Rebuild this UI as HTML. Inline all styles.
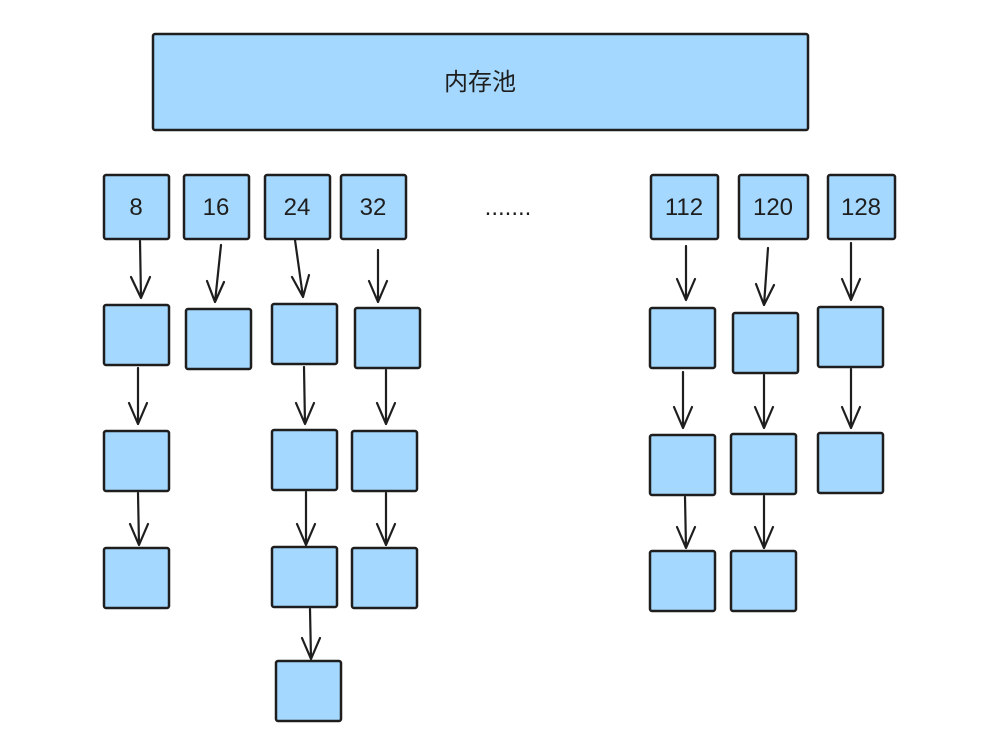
<!DOCTYPE html>
<html><head><meta charset="utf-8"><style>
html,body{margin:0;padding:0;background:#fff;}
svg{display:block;}
text{font-family:"Liberation Sans","Noto Sans CJK SC",sans-serif;fill:#1e1e1e;}
</style></head><body>
<svg width="996" height="756" viewBox="0 0 996 756" xmlns="http://www.w3.org/2000/svg">
<g fill="#a5d8ff" stroke="#1e1e1e" stroke-width="2.5" stroke-linejoin="round">
<rect x="153" y="34" width="655" height="96" rx="2"/>
<rect x="104" y="175" width="65" height="64" rx="2"/>
<rect x="184" y="175" width="65" height="64" rx="2"/>
<rect x="265" y="175" width="65" height="64" rx="2"/>
<rect x="341" y="175" width="65" height="64" rx="2"/>
<rect x="651" y="175" width="67" height="64" rx="2"/>
<rect x="739" y="175" width="69" height="64" rx="2"/>
<rect x="828" y="175" width="67" height="64" rx="2"/>
<rect x="104" y="305" width="65" height="60" rx="2"/>
<rect x="104" y="431" width="65" height="60" rx="2"/>
<rect x="104" y="548" width="65" height="60" rx="2"/>
<rect x="186" y="309" width="65" height="60" rx="2"/>
<rect x="272" y="304" width="65" height="60" rx="2"/>
<rect x="272" y="430" width="65" height="60" rx="2"/>
<rect x="272" y="547" width="65" height="60" rx="2"/>
<rect x="276" y="661" width="65" height="60" rx="2"/>
<rect x="355" y="308" width="65" height="60" rx="2"/>
<rect x="352" y="431" width="65" height="60" rx="2"/>
<rect x="352" y="548" width="65" height="60" rx="2"/>
<rect x="650" y="308" width="65" height="60" rx="2"/>
<rect x="650" y="435" width="65" height="60" rx="2"/>
<rect x="650" y="551" width="65" height="60" rx="2"/>
<rect x="733" y="313" width="65" height="60" rx="2"/>
<rect x="731" y="434" width="65" height="60" rx="2"/>
<rect x="731" y="551" width="65" height="60" rx="2"/>
<rect x="818" y="307" width="65" height="60" rx="2"/>
<rect x="818" y="433" width="65" height="60" rx="2"/>
</g>
<g fill="none" stroke="#1e1e1e" stroke-width="2.2" stroke-linecap="round" stroke-linejoin="round">
<path d="M140 241 L141 298 M131 277 L141 298 L150 277"/>
<path d="M138 368 L138 424 M129 403 L138 424 L147 403"/>
<path d="M138 493 L139 545 M130 524 L139 545 L148 524"/>
<path d="M221 245 L215 302 M207 281 L215 302 L224 282"/>
<path d="M295 240 L303 297 M292 277 L303 297 L309 275"/>
<path d="M304 367 L305 424 M296 403 L305 424 L314 403"/>
<path d="M306 492 L306 545 M297 524 L306 545 L315 524"/>
<path d="M310 609 L311 659 M302 638 L311 659 L320 638"/>
<path d="M378 250 L378 302 M369 281 L378 302 L387 281"/>
<path d="M386 370 L386 424 M377 403 L386 424 L395 403"/>
<path d="M386 493 L386 545 M377 524 L386 545 L395 524"/>
<path d="M686 246 L686 300 M677 279 L686 300 L695 279"/>
<path d="M683 372 L683 428 M674 407 L683 428 L692 407"/>
<path d="M685 497 L686 548 M677 527 L686 548 L695 527"/>
<path d="M768 248 L764 305 M756 284 L764 305 L774 285"/>
<path d="M764 375 L764 428 M755 407 L764 428 L773 407"/>
<path d="M764 496 L764 548 M755 527 L764 548 L773 527"/>
<path d="M851 243 L851 300 M842 279 L851 300 L860 279"/>
<path d="M851 369 L851 428 M842 407 L851 428 L860 407"/>
</g>
<g font-size="24" text-anchor="middle">
<text x="480" y="90" font-size="24">内存池</text>
<text x="136" y="215">8</text>
<text x="216" y="215">16</text>
<text x="297" y="215">24</text>
<text x="373" y="215">32</text>
<text x="684" y="215">112</text>
<text x="773" y="215">120</text>
<text x="861" y="215">128</text>
<text x="508" y="215">.......</text>
</g>
</svg>
</body></html>
